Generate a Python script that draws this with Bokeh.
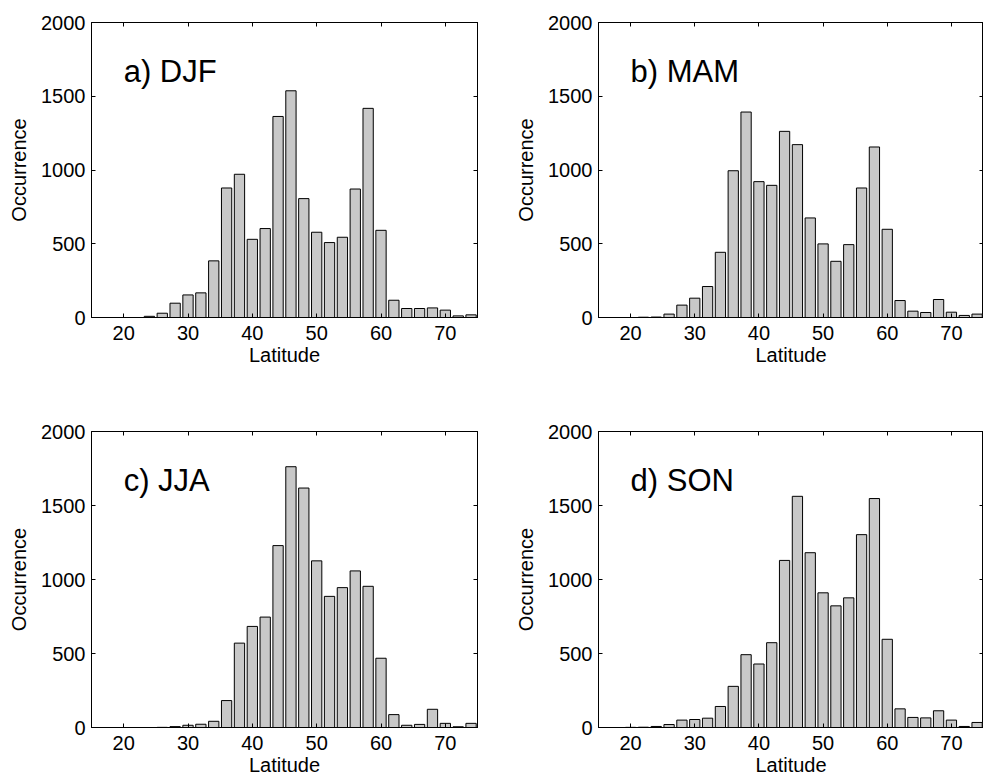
from bokeh.plotting import figure
from bokeh.layouts import column, row
from bokeh.models import LinearAxis, FixedTicker, Range1d
from bokeh.core.properties import value
from bokeh.embed import file_html
from bokeh.resources import INLINE

latitude = [16, 18, 20, 22, 24, 26, 28, 30, 32, 34, 36, 38, 40, 42, 44,
            46, 48, 50, 52, 54, 56, 58, 60, 62, 64, 66, 68, 70, 72, 74]

djf = [0, 0, 0, 0, 8, 29, 97, 153, 167, 384, 878, 971, 530, 603, 1363,
       1537, 806, 578, 508, 544, 871, 1418, 591, 117, 61, 61, 65, 50, 11, 18]
mam = [0, 0, 0, 2, 3, 23, 84, 131, 210, 442, 995, 1393, 921, 896, 1262,
       1172, 675, 499, 381, 494, 878, 1156, 598, 115, 43, 34, 122, 36, 14, 23]
jja = [0, 0, 0, 0, 0, 1, 6, 15, 22, 42, 182, 570, 683, 746, 1229,
       1762, 1618, 1126, 886, 945, 1058, 954, 468, 87, 15, 21, 123, 28, 5, 28]
son = [0, 0, 1, 2, 7, 20, 50, 54, 63, 142, 278, 492, 429, 573, 1129,
       1562, 1181, 910, 822, 876, 1303, 1547, 596, 126, 68, 65, 113, 50, 7, 34]

titles = ["a) DJF", "b) MAM", "c) JJA", "d) SON"]
x_ticks = [20, 30, 40, 50, 60, 70]
y_ticks = [0, 500, 1000, 1500, 2000]

FONT = "Liberation Sans"


def style_axis(ax, labels=True):
    ax.major_tick_in = 4
    ax.major_tick_out = 0
    ax.minor_tick_in = 0
    ax.minor_tick_out = 0
    ax.axis_line_color = "black"
    ax.major_tick_line_color = "black"
    ax.major_label_text_font = FONT
    ax.axis_label_text_font = FONT
    ax.axis_label_text_font_style = "normal"
    ax.axis_label_text_color = "black"
    if labels:
        ax.major_label_text_color = "black"
        ax.major_label_text_font_size = "20px"
        ax.axis_label_text_font_size = "20px"
    else:
        ax.major_label_text_color = None
        ax.major_label_text_alpha = 0
        ax.major_label_text_font_size = "1px"
        ax.major_label_standoff = 0


def make_panel(vals, title, left_col, top_row):
    p = figure(output_backend="svg", toolbar_location=None,
               frame_width=386 if left_col else 385,
               frame_height=295 if top_row else 296,
               min_border_left=91,
               min_border_right=30 if left_col else 0,
               min_border_top=22,
               min_border_bottom=92 if top_row else 52,
               x_range=Range1d(15, 75), y_range=Range1d(0, 2000))
    p.grid.visible = False
    p.outline_line_color = "black"
    p.background_fill_color = "white"
    p.border_fill_color = "white"

    p.vbar(x=latitude, top=vals, bottom=0, width=1.6,
           fill_color="#c8c8c8", line_color="black", line_width=1)

    p.text(x=[20], y=[1670], text=[title], text_font=value(FONT),
           text_font_size="31px", text_align="left",
           text_baseline="alphabetic", text_color="black")

    xa = p.xaxis[0]
    xa.ticker = FixedTicker(ticks=x_ticks)
    xa.axis_label = "Latitude"
    style_axis(xa)
    xa.major_label_standoff = 8
    xa.axis_label_standoff = 1

    ya = p.yaxis[0]
    ya.ticker = FixedTicker(ticks=y_ticks)
    ya.axis_label = "Occurrence"
    style_axis(ya)
    ya.major_label_standoff = 6
    ya.axis_label_standoff = 8

    ra = LinearAxis(ticker=FixedTicker(ticks=y_ticks))
    style_axis(ra, labels=False)
    p.add_layout(ra, "right")
    ta = LinearAxis(ticker=FixedTicker(ticks=x_ticks))
    style_axis(ta, labels=False)
    p.add_layout(ta, "above")
    return p


pa = make_panel(djf, titles[0], True, True)
pb = make_panel(mam, titles[1], False, True)
pc = make_panel(jja, titles[2], True, False)
pd = make_panel(son, titles[3], False, False)

layout = column(row(pa, pb), row(pc, pd))

open("out.html", "w").write(file_html(layout, INLINE))
